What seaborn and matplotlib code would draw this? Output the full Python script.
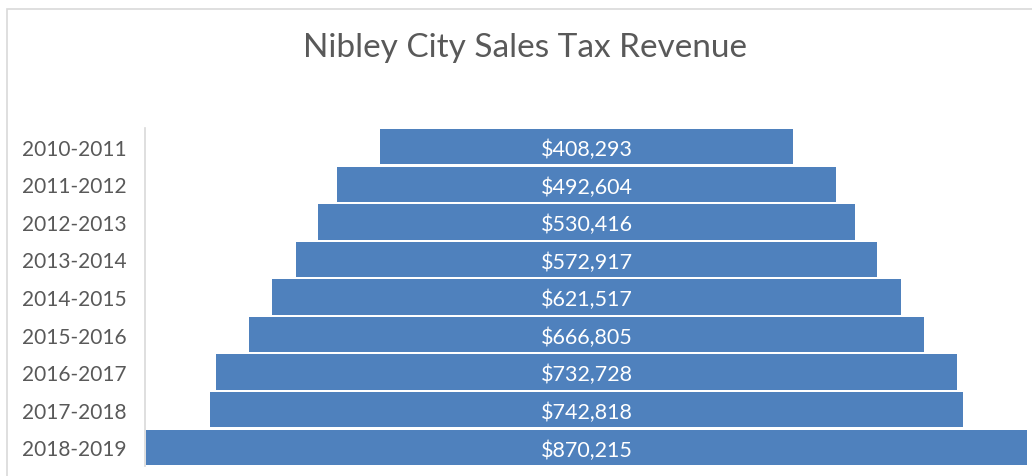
import pandas as pd
import matplotlib.pyplot as plt
import matplotlib.patches as mpatches
import seaborn as sns

years = ['2010-2011', '2011-2012', '2012-2013', '2013-2014', '2014-2015',
         '2015-2016', '2016-2017', '2017-2018', '2018-2019']
revenue = [408293, 492604, 530416, 572917, 621517, 666805, 732728, 742818, 870215]

df = pd.DataFrame({'year': years, 'revenue': revenue})
df['half'] = df['revenue'] / 2

sns.set_style('white')
plt.rcParams['font.family'] = ['Lato', 'DejaVu Sans']

fig = plt.figure(figsize=(10.32, 4.77), dpi=100)
ax = fig.add_axes([145 / 1032, 1 - 467 / 477, 883 / 1032, 338 / 477])

blue = '#4F81BD'
# funnel: one bar to the right and one to the left of zero
sns.barplot(data=df, x='half', y='year', color=blue, width=0.94,
            linewidth=0, saturation=1, ax=ax, orient='h')
df['neg'] = -df['half']
sns.barplot(data=df, x='neg', y='year', color=blue, width=0.94,
            linewidth=0, saturation=1, ax=ax, orient='h')

mx = max(revenue)
ax.set_xlim(-mx / 2 - 1000, mx / 2 + 1000)
ax.set_ylim(8.5, -0.5)

for i, v in enumerate(revenue):
    ax.text(0, i + 0.06, '${:,}'.format(v), color='white', ha='center',
            va='center', fontsize=15.5)

ax.set_xlabel('')
ax.set_ylabel('')
ax.set_xticks([])
ax.tick_params(axis='y', length=0, labelsize=15, labelcolor='#595959', pad=13)
for s in ['top', 'right', 'bottom']:
    ax.spines[s].set_visible(False)
ax.spines['left'].set_color('#D9D9D9')
ax.spines['left'].set_linewidth(1.2)

fig.text(525 / 1032, 1 - 48 / 477, 'Nibley City Sales Tax Revenue',
         ha='center', va='center', fontsize=24, color='#595959')

border = mpatches.Rectangle((7 / 1032, -0.1), 1.1, 1 - 10 / 477 + 0.1,
                            transform=fig.transFigure, fill=False,
                            edgecolor='#D9D9D9', linewidth=1.2)
fig.patches.append(border)

fig.savefig('out.png', dpi=100)
